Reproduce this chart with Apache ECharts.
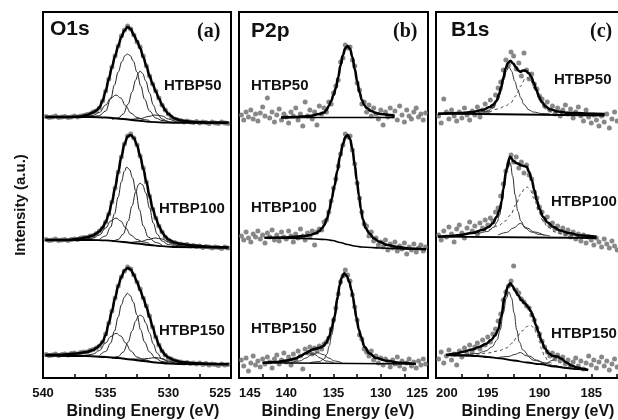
<!DOCTYPE html>
<html>
<head>
<meta charset="utf-8">
<script src="https://cdn.jsdelivr.net/npm/echarts@6/dist/echarts.min.js"></script>
<style>
  html, body { margin: 0; padding: 0; background: #fff; }
  #xps { width: 618px; height: 420px; }
</style>
</head>
<body>
<div id="xps"></div>
<script>
// ---- O1s (a) ----
var eO1s = [539.75,539.5,539.25,539, 538.75,538.5,538.25,538, 537.75,537.5,537.25,537,
  536.75,536.5,536.25,536, 535.75,535.5,535.25,535, 534.75,534.5,534.25,534,
  533.75,533.5,533.25,533, 532.75,532.5,532.25,532, 531.75,531.5,531.25,531,
  530.75,530.5,530.25,530, 529.75,529.5,529.25,529, 528.75,528.5,528.25,528,
  527.75,527.5,527.25,527, 526.75,526.5,526.25,526, 525.75,525.5,525.25];
var o1s50 = [261.5,260.5,261,262, 260.5,261,261.5,260.5, 261,262,261,262,
  262.5,263.5,264,266, 267,270,277,287, 299,311,322,332,
  342,348,352,349, 343,336,331,322, 312,302,294,287,
  280,273,268,264, 261,259,258,257.5, 256,257,256,255.5,
  256.5,255,256,255.5, 254.5,256,255,254.5, 256,255,254.5];
var o1s100 = [138.5,137.5,138,139, 137.5,138,138.5,137.5, 138.5,139,138.5,140,
  140.5,140.5,142,142.5, 144.5,147,150,156, 164,176,190,206,
  221,234,242,244, 240,233,222,210, 196,182,169,160,
  152,146,141,138, 136,135.5,134,134, 133,133.5,132,132.5,
  131.5,132,130.5,131.5, 131,130,131,130.5, 129.5,131,130];
var o1s150 = [23.5,22.5,23,24, 22.5,23.5,24,23, 24.5,25,24,25.5,
  26,26,27.5,28.5, 30,32,36,44, 55,67,80,92,
  101,107,111,109, 103,96,89,80, 72,62,51,41,
  33,27,23,20, 19,17.5,16.5,16, 15,15.5,14.5,15,
  14,15,13.5,14.5, 13,14,13.5,12.5, 14,13,13.5];

var o1s50Fit = [[539.8,261],[538,261],[537,261.5],[536.5,263],[536,265.5],[535.75,267.5],[535.5,270.5],[535.25,277],[535,287],[534.75,299],[534.5,311],[534.25,322],[534,332],[533.75,341],[533.5,347.5],[533.25,351],[533,349],[532.75,343],[532.5,337],[532.25,330],[532,321],[531.75,312],[531.5,302],[531.25,294],[531,286.5],[530.75,279.5],[530.5,273],[530.25,268],[530,264],[529.5,259.5],[529,257.5],[528,256],[526.5,255.5],[525.2,255.5]];
var o1s50Bg = [[539.8,261],[536.2,261],[535,260.5],[533.6,259],[532.5,257.5],[531.5,256.2],[530.5,255.5],[529.6,255.2],[525.2,255.2]];
var o1s50Peaks = [
  [[536,261],[535.5,262.5],[535,267],[534.6,279],[534.3,293],[534,306],[533.7,316.5],[533.45,322.5],[533.27,324],[533.05,322.5],[532.8,317],[532.5,306],[532.2,292],[531.9,279],[531.5,267],[531,260],[530.5,257.5],[530,256.5]],
  [[534.5,258.5],[534,260],[533.6,264],[533.2,274],[532.9,286],[532.6,298],[532.4,304.5],[532.26,307],[532.05,304.5],[531.8,297],[531.5,285],[531.2,273],[530.9,264.5],[530.5,259],[530,256.5],[529.5,255.5]],
  [[537,261],[536.5,261.5],[536,262.5],[535.5,265.5],[535,273],[534.6,280],[534.17,283],[533.8,280],[533.4,272],[533,265],[532.5,260.5],[532,258.5],[531.5,257.5]],
  [[533,258.5],[532.2,259.5],[531.6,261.5],[531.06,263],[530.5,262],[530,259],[529.3,256],[528.7,255.3]]
];
var o1s100Fit = [[539.8,138],[538,138],[537,139.5],[536.5,140.8],[536,142.5],[535.75,144.5],[535.5,146.8],[535.25,150.5],[535,156],[534.75,164],[534.5,176],[534.25,190],[534,206],[533.75,221],[533.5,234],[533.25,241.5],[533,243],[532.75,240],[532.5,233],[532.25,222],[532,209.5],[531.75,196],[531.5,182],[531.25,169.5],[531,160],[530.75,152],[530.5,146],[530.25,141.5],[530,138.5],[529.5,135.5],[529,134],[528,132.5],[526.5,131],[525.2,130.5]];
var o1s100Bg = [[539.8,138],[536.2,138],[535,137.6],[533.6,136],[532.5,134.5],[531.5,133],[530.5,131.8],[529.6,131],[525.2,130.5]];
var o1s100Peaks = [
  [[535.5,138.5],[535,142],[534.6,151],[534.3,164],[534,181],[533.75,196],[533.5,207],[533.32,211],[533.1,208.5],[532.85,200],[532.6,187],[532.3,168],[532,152],[531.6,141],[531,135.5],[530.5,133]],
  [[534.5,136],[534,138.5],[533.6,144],[533.2,157],[532.9,172],[532.6,186],[532.4,193],[532.26,195],[532.05,193],[531.8,185],[531.5,170],[531.2,155],[530.9,144],[530.5,137],[530,133.5],[529.5,132]],
  [[537,138.5],[536.5,139],[536,140],[535.5,143],[535,150],[534.6,157],[534.17,160],[533.8,157],[533.4,150],[533,143],[532.5,138.5],[532,136],[531.5,134.5]],
  [[533,135.5],[532.2,136.5],[531.6,138.5],[531.06,140],[530.5,139],[530,136],[529.3,132.5],[528.7,131.5]]
];
var o1s150Fit = [[539.8,23],[538.5,23.3],[537.3,24.5],[536.5,26],[536,28],[535.75,30],[535.5,32.5],[535.25,36],[535,43],[534.75,55],[534.5,67],[534.25,80],[534,92],[533.75,101],[533.5,107.5],[533.25,110],[533,108.5],[532.75,103],[532.5,96],[532.25,88],[532,80],[531.75,71],[531.5,61],[531.25,51],[531,41],[530.75,33],[530.5,27],[530.25,23],[530,20.5],[529.5,17.5],[529,16],[528,14.8],[526.5,14],[525.2,13.8]];
var o1s150Bg = [[539.8,22.5],[536.5,22],[535,21],[534,20],[533,18.5],[532,17],[531,15.5],[530,14.5],[529,14],[525.2,13.8]];
var o1s150Peaks = [
  [[535.5,22.5],[535,26.5],[534.6,35],[534.3,47],[534,61],[533.75,73],[533.5,81],[533.27,84.7],[533.05,82.5],[532.8,76],[532.5,63],[532.2,48],[531.9,36],[531.5,26],[531,19.5],[530.5,16.5],[530,15]],
  [[534.5,19.5],[534,21.5],[533.6,26],[533.2,36],[532.9,47],[532.6,57],[532.4,61.5],[532.26,63],[532.05,61.5],[531.8,55],[531.5,45],[531.2,34],[530.9,25],[530.5,19],[530,16],[529.5,14.5]],
  [[537,22.2],[536.5,22.8],[536,24],[535.5,27.5],[535,35],[534.6,41.5],[534.17,44.7],[533.8,42],[533.4,35],[533,27],[532.5,21],[532,18.5],[531.5,17]],
  [[533,18.8],[532.2,19],[531.6,19.5],[531.06,20.5],[530.5,19.5],[530,17],[529.3,14.5],[528.7,14]]
];

// ---- P2p (b) ----
var eP2p = [144.75,144.5,144.25,144, 143.75,143.5,143.25,143, 142.75,142.5,142.25,142,
  141.75,141.5,141.25,141, 140.75,140.5,140.25,140, 139.75,139.5,139.25,139,
  138.75,138.5,138.25,138, 137.75,137.5,137.25,137, 136.75,136.5,136.25,136,
  135.75,135.5,135.25,135, 134.75,134.5,134.25,134, 133.75,133.5,133.25,133,
  132.75,132.5,132.25,132, 131.75,131.5,131.25,131, 130.75,130.5,130.25,130,
  129.75,129.5,129.25,129, 128.75,128.5,128.25,128, 127.75,127.5,127.25,127,
  126.75,126.5,126.25,126, 125.75,125.5,125.25];
var p2p50 = [263,258,266,261, 268,259,264,257, 265,271,262,280, 260,266,256,263,
  269,258,264,261, 255,266,262,270, 258,264,252,276, 262,268,259,266,
  253,272,264,270, 266,276,274,285, 292,298,316,320, 333,330,331,318,
  312,295,288,274, 276,266,273,262, 270,264,259,268, 253,266,261,270,
  262,267,258,272, 263,256,268,262, 259,266,270,261, 264,258,265];
var p2p100 = [142,138,146,140, 136,144,141,147, 139,143,135,145, 141,148,138,143,
  137,146,141,139, 147,142,136,144, 140,149,142,138, 145,141,147,133,
  146,149,148,156, 158,166,177,190, 199,212,224,233, 244,241,242,228,
  214,195,180,166, 154,152,142,146, 137,140,133,136, 131,138,128,134,
  130,136,127,132, 129,135,124,131, 128,134,126,130, 133,127,131];
var p2p150 = [18,12,20,7, 15,22,13,17, 11,19,14,21, 16,10,19,23,
  14,18,25,16, 21,13,24,19, 27,22,9,29, 25,31,24,30,
  27,32,29,34, 36,40,49,58, 70,84,96,102, 108,103,97,83,
  71,58,43,39, 29,26,22,27, 18,22,15,20, 13,19,16,11,
  18,14,21,12, 17,9,15,19, 12,16,10,17, 13,19,14];

var p2p50Fit = [[140.55,260.5],[139,261],[137.5,262],[136.5,264],[136,265.5],[135.75,268],[135.5,272],[135.25,277],[135,283],[134.75,290],[134.5,301],[134.25,313],[134,323],[133.75,330],[133.5,332],[133.25,329],[133,321],[132.75,309],[132.5,297],[132.25,286],[132,278],[131.75,273],[131.5,270],[131,267],[130.5,265],[130,264],[129,263],[128.55,262]];
var p2p50Bg = [[140.55,260.5],[128.55,260.5]];
var p2p100Fit = [[142.3,140.3],[140,140.5],[139,141.3],[138,142],[137.5,143],[136.85,144.7],[136.5,147],[136.2,150],[135.97,153],[135.7,159],[135.44,168],[135.2,179],[134.9,192],[134.6,207],[134.3,222],[134,234],[133.75,241],[133.5,243],[133.25,239],[133,229],[132.75,213],[132.54,198],[132.3,182],[132.1,169],[131.9,159],[131.6,150],[131.2,144.5],[130.7,139.5],[130.15,136.3],[129.3,133],[128.4,131.3],[127,129.5],[125.2,128.7]];
var p2p100Bg = [[142.3,140.3],[138,139.5],[135.8,138.5],[135.1,137.5],[134.3,135.5],[133.5,133.5],[132.8,132],[132,131],[130,130],[127,129],[125.2,128.7]];
var p2p150Fit = [[142.5,15.3],[141,16],[140,17.5],[139,19.5],[138.5,22],[137.9,25],[137.5,27.3],[137.2,28.5],[136.8,29.5],[136.4,30.5],[136.1,31.8],[135.8,35],[135.45,41.3],[135.2,50],[134.9,61.3],[134.56,81.3],[134.35,93],[134.15,100],[133.86,104.7],[133.6,102],[133.33,96.3],[133.1,88],[132.95,81.3],[132.75,70],[132.6,61.3],[132.3,48],[132.1,41.3],[131.7,31],[131.2,24.7],[130.5,20],[129.4,17.3],[128,15.3],[126.3,14]];
var p2p150Bg = [[142.5,15.3],[126.3,14]];
var p2p150Peaks = [
  [[140.5,15.8],[139.5,17],[138.8,20],[138.2,23.5],[137.56,25.3],[137,23.5],[136.4,20],[135.8,17],[135,15.3]],
  [[139.5,15.5],[138.6,17],[137.9,20],[137.3,23.5],[136.67,25.3],[136.1,23.5],[135.5,20],[134.9,17],[134.1,15.2]],
  [[137.5,15.3],[136.5,16.5],[136,19],[135.7,24],[135.45,32],[135.2,43],[134.9,57],[134.56,78],[134.3,93],[134.1,100],[133.86,104],[133.6,101.5],[133.33,96],[133.1,87.5],[132.95,81],[132.75,69.5],[132.6,61],[132.3,47.5],[132.1,41],[131.7,30.5],[131.2,24.3],[130.5,19.7],[129.4,17],[128,15.2]]
];

// ---- B1s (c) ----
var eB1s = [199.75,199.5,199.25,199, 198.75,198.5,198.25,198, 197.75,197.5,197.25,197,
  196.75,196.5,196.25,196, 195.75,195.5,195.25,195, 194.75,194.5,194.25,194,
  193.75,193.5,193.25,193, 192.75,192.5,192.25,192, 191.75,191.5,191.25,191,
  190.75,190.5,190.25,190, 189.75,189.5,189.25,189, 188.75,188.5,188.25,188,
  187.75,187.5,187.25,187, 186.75,186.5,186.25,186, 185.75,185.5,185.25,185,
  184.75,184.5,184.25,184, 183.75,183.5,183.25,183, 182.75,182.5];
var b1s50 = [262,255,279,266, 259,268,262,257, 266,260,270,263, 258,267,263,271,
  261,268,274,266, 278,272,283,290, 296,308,318,313, 326,322,309,315,
  302,325,308,299, 304,294,289,282, 279,272,276,268, 272,264,270,262,
  268,273,264,269, 260,266,271,262, 257,268,261,255, 263,258,252,262,
  256,264,250,259, 266,257];
var b1s100 = [143,138,147,141, 151,144,136,149, 153,145,140,150, 156,147,152,144,
  155,150,158,153, 160,157,166,170, 182,194,207,214, 223,216,221,210,
  216,205,213,203, 199,186,180,171, 166,158,161,152, 155,149,152,146,
  150,144,148,141, 146,139,144,137, 143,135,141,138, 133,140,136,131,
  139,134,130,137, 132,128];
var b1s150 = [19,26,15,22, 28,18,24,13, 27,21,30,24, 33,26,31,35,
  29,38,33,41, 36,44,49,57, 64,78,86,92, 97,112,88,85,
  79,76,72,70, 63,58,50,44, 37,31,26,22, 25,19,23,17,
  21,14,18,11, 16,20,12,17, 9,15,22,13, 18,10,16,21,
  12,17,8,14, 19,11];

var b1s50Fit = [[199.8,264],[197.5,265],[196.5,266],[195.5,268],[194.8,271],[194.5,273],[194.17,277],[193.9,284],[193.7,291],[193.5,300],[193.27,309.7],[193.05,315],[192.82,317.3],[192.55,314.5],[192.3,311.3],[192.05,307.5],[191.85,306.3],[191.6,307.5],[191.33,307.3],[191.05,305],[190.8,301.3],[190.55,295],[190.3,288],[190.05,281.5],[189.8,276.3],[189.4,271.5],[189,268.7],[188.2,266.5],[187.4,265.3],[185.5,264.5],[183.7,264]];
var b1s50Bg = [[199.8,264.5],[183.7,262.5]];
var b1s50Main = [[196,265],[195.1,266.5],[194.5,270],[194,278],[193.7,287],[193.45,298],[193.2,307],[192.95,311],[192.7,307],[192.4,297],[192.1,288],[191.8,280],[191.5,273.5],[191,268],[190.6,266],[189.8,264.5],[189,264]];
var b1s50Dash = [[196,264.5],[195,266],[194,269],[193.3,272],[192.8,275],[192.3,282],[191.8,292],[191.4,299],[191.2,300.5],[190.9,298],[190.4,288],[189.9,276],[189.4,269],[188.7,265.5],[187.5,264],[186,263.5]];

var b1s100Fit = [[199.8,141.3],[198.5,142],[197.7,143],[196.5,145],[195.5,148],[194.9,151],[194.5,154.7],[194.15,161],[193.85,168],[193.65,177],[193.5,189],[193.2,208],[192.85,221.3],[192.5,217],[192.2,214.7],[191.7,212.5],[191.24,211.3],[191,206],[190.75,198],[190.5,188],[190.27,178],[190,169],[189.66,161.3],[189.2,155.5],[188.7,151.3],[188,147.5],[187.08,144.7],[186,142.5],[184.5,141.3]];
var b1s100Bg = [[199.8,141.3],[184.5,140]];
var b1s100Main = [[196,144],[195,146.5],[194.4,151],[194.1,156],[193.85,163],[193.6,178],[193.35,198],[193.15,213],[193,218],[192.8,214],[192.6,202],[192.35,183],[192.1,167],[191.8,157],[191.4,150],[190.8,146],[190,143.5],[189,142]];
var b1s100Small = [[194,143],[193.2,145.5],[192.5,150],[191.85,154.7],[191.2,150],[190.5,146],[189.5,142.5]];
var b1s100Dash = [[196,145],[195,148],[194,152],[193.3,157],[192.8,163],[192.3,173],[191.8,184],[191.4,190],[191.2,191],[190.9,188],[190.5,179],[190.1,167],[189.7,158],[189.2,151],[188.5,146],[187.5,143],[186,141]];

var b1s150Fit = [[199,23],[198,24.5],[197.4,26.3],[196.5,28.5],[195.78,31.3],[195.2,34],[194.66,38],[194.3,42.5],[194,48],[193.7,61.3],[193.36,81.3],[193.05,91.5],[192.82,94.7],[192.6,92],[192.4,88],[192.05,82.5],[191.76,78],[191.4,74.5],[191.1,71],[190.85,67],[190.6,61.3],[190.35,53],[190.1,46],[189.8,37],[189.5,30],[189.1,24.5],[188.7,22],[188.3,21.5],[187.9,19.5],[187.4,15.5],[186.9,12.5],[186.4,10.5],[185.8,9],[185.3,8]];
var b1s150Bg = [[199,23],[197.5,22.5],[196,22],[195,21],[193.85,19.7],[192.5,17.5],[191.2,15.5],[190,13.8],[188.5,11.5],[187.4,10],[186.3,8.8],[185.3,8]];
var b1s150Main = [[199,23],[197,23.5],[196,24.5],[195.2,27],[194.6,31],[194.1,38],[193.8,48],[193.5,65],[193.2,80],[192.95,86],[192.7,80],[192.45,65],[192.2,48],[191.95,36],[191.6,28],[191,22],[190.3,18],[189.5,15],[188.5,12],[187.5,10]];
var b1s150Small = [
  [[194,20.5],[193,21.5],[192.4,23.5],[191.85,25.5],[191.3,22.5],[190.5,17.5],[189.5,14.5]],
  [[190,14.2],[189.3,15],[188.8,17.5],[188.3,20.5],[187.8,18.5],[187.2,14],[186.5,10.5],[186,9]]
];
var b1s150Dash = [[199,22.5],[197.5,23],[196,24],[195,25],[194,27],[193.2,30],[192.6,35],[192.2,41],[191.7,47],[191.24,51.3],[190.9,53],[190.6,51],[190.27,44.7],[190,36],[189.8,29],[189.5,21.5],[189.1,16],[188.5,12.5],[187.5,10],[186,8.5]];

var chart = echarts.init(document.getElementById('xps'));
var FONT = 'Liberation Sans, Arial, sans-serif';

function pts(e, v) {
  return e.map(function (x, i) { return [x, v[i]]; });
}
function dots(g, e, v) {
  return { type: 'scatter', xAxisIndex: g, yAxisIndex: g, data: pts(e, v), symbolSize: 5,
    itemStyle: { color: '#6a6a6a' }, silent: true, z: 1 };
}
function curve(g, d, w, color, dash) {
  return { type: 'line', xAxisIndex: g, yAxisIndex: g, data: d, smooth: 0.4, smoothMonotone: 'x',
    showSymbol: false, silent: true, z: w > 2 ? 4 : 3,
    lineStyle: { color: color, width: w, type: dash || 'solid' } };
}
function xAx(g, min, max, extra) {
  var ax = {
    type: 'value', gridIndex: g, min: min, max: max, inverse: true, interval: 5,
    axisLine: { show: false }, splitLine: { show: false },
    axisTick: { inside: true, length: 4, lineStyle: { color: '#000', width: 1.5 } },
    minorTick: { show: true, splitNumber: 2, length: 4, lineStyle: { color: '#000', width: 1.5 } },
    axisLabel: { color: '#111', fontFamily: FONT, fontWeight: 'bold', fontSize: 13, margin: 9,
      showMinLabel: true, showMaxLabel: true }
  };
  Object.assign(ax.axisLabel, extra || {});
  return ax;
}
function yAx(g) {
  return { type: 'value', gridIndex: g, min: 0, max: 366, show: false };
}

var series = [
  dots(0, eO1s, o1s50), dots(0, eO1s, o1s100), dots(0, eO1s, o1s150),
  dots(1, eP2p, p2p50), dots(1, eP2p, p2p100), dots(1, eP2p, p2p150),
  dots(2, eB1s, b1s50), dots(2, eB1s, b1s100), dots(2, eB1s, b1s150)
];
[o1s50Peaks, o1s100Peaks, o1s150Peaks].forEach(function (set) {
  set.forEach(function (p) { series.push(curve(0, p, 1, '#222')); });
});
[o1s50Bg, o1s100Bg, o1s150Bg].forEach(function (b) { series.push(curve(0, b, 1.8, '#000')); });
[o1s50Fit, o1s100Fit, o1s150Fit].forEach(function (f) { series.push(curve(0, f, 2.6, '#000')); });

p2p150Peaks.forEach(function (p) { series.push(curve(1, p, 1, '#333')); });
[p2p50Bg, p2p100Bg, p2p150Bg].forEach(function (b) { series.push(curve(1, b, 1.4, '#000')); });
[p2p50Fit, p2p100Fit, p2p150Fit].forEach(function (f) { series.push(curve(1, f, 2.6, '#000')); });

[b1s50Main, b1s100Main, b1s100Small, b1s150Main].concat(b1s150Small).forEach(function (p) {
  series.push(curve(2, p, 1, '#333'));
});
[b1s50Dash, b1s100Dash, b1s150Dash].forEach(function (p) { series.push(curve(2, p, 1, '#444', [3, 3])); });
[b1s50Bg, b1s100Bg, b1s150Bg].forEach(function (b) { series.push(curve(2, b, 1.8, '#000')); });
[b1s50Fit, b1s100Fit, b1s150Fit].forEach(function (f) { series.push(curve(2, f, 2.6, '#000')); });

function label(x, y, text, size, family, align) {
  return { type: 'text', x: x, y: y, silent: true,
    style: { text: text, fill: '#111', font: 'bold ' + size + 'px ' + (family || FONT),
      align: align || 'left', verticalAlign: 'middle' } };
}
var SERIF = 'Liberation Serif, Times New Roman, serif';

function panel(left, width) {
  return { left: left, top: 12, width: width, height: 366, show: true,
    borderColor: '#000', borderWidth: 2, outerBoundsMode: 'none', containLabel: false };
}

option = {
  animation: false,
  backgroundColor: '#fff',
  grid: [panel(43, 188), panel(239, 189), panel(436, 207)],
  xAxis: [
    xAx(0, 525, 540, { alignMinLabel: 'right' }),
    xAx(1, 125, 145, { alignMinLabel: 'right', alignMaxLabel: 'left' }),
    xAx(2, 180, 200, { alignMaxLabel: 'left' })
  ],
  yAxis: [yAx(0), yAx(1), yAx(2)],
  series: series,
  graphic: [
    label(50, 29, 'O1s', 21), label(197, 32, '(a)', 20, SERIF),
    label(251, 31, 'P2p', 21), label(393, 32, '(b)', 20, SERIF),
    label(451, 30, 'B1s', 21), label(590, 32, '(c)', 20, SERIF),
    label(164, 86, 'HTBP50', 15), label(159, 209, 'HTBP100', 15), label(159, 331, 'HTBP150', 15),
    label(251, 86, 'HTBP50', 15), label(251, 208, 'HTBP100', 15), label(251, 329, 'HTBP150', 15),
    label(554, 80, 'HTBP50', 15), label(551, 202, 'HTBP100', 15), label(551, 334, 'HTBP150', 15),
    label(143, 412, 'Binding Energy (eV)', 16, null, 'center'),
    label(338, 412, 'Binding Energy (eV)', 16, null, 'center'),
    label(538, 412, 'Binding Energy (eV)', 16, null, 'center'),
    { type: 'text', x: 21, y: 205, rotation: Math.PI / 2, silent: true,
      style: { text: 'Intensity (a.u.)', fill: '#111', font: 'bold 15px ' + FONT,
        align: 'center', verticalAlign: 'middle' } }
  ]
};
chart.setOption(option);
</script>
</body>
</html>
